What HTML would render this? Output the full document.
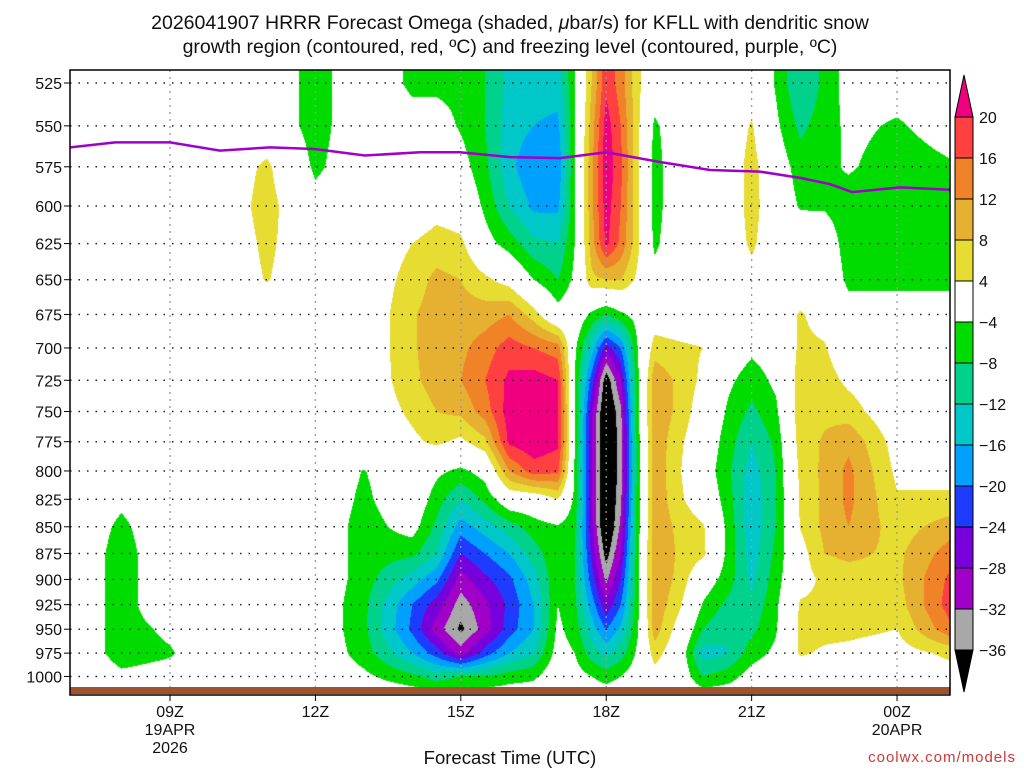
<!DOCTYPE html>
<html><head><meta charset="utf-8">
<style>
html,body{margin:0;padding:0;background:#fff;}
#wrap{position:relative;width:1024px;height:768px;overflow:hidden;font-family:"Liberation Sans",sans-serif;}
#field{position:absolute;left:70px;top:70px;}
#ov{position:absolute;left:0;top:0;}
</style></head>
<body>
<div id="wrap">
<canvas id="field" width="880" height="626"></canvas>
<svg id="ov" width="1024" height="768" xmlns="http://www.w3.org/2000/svg">
<g font-family="Liberation Sans, sans-serif" font-size="19.5" fill="#111" text-anchor="middle">
<text x="510" y="29">2026041907 HRRR Forecast Omega (shaded, <tspan font-style="italic">μ</tspan>bar/s) for KFLL with dendritic snow</text>
<text x="510" y="53">growth region (contoured, red, ºC) and freezing level (contoured, purple, ºC)</text>
</g>
<g id="grid"></g>
<path id="fz" fill="none" stroke="#a000c8" stroke-width="2.5"/>
<rect x="70" y="687" width="880" height="7" fill="#a0522d"/>
<rect x="70" y="70" width="880" height="625" fill="none" stroke="#000" stroke-width="1.5"/>
<g id="yax" font-size="16" text-anchor="end" fill="#111"></g>
<g id="xax" font-size="16" text-anchor="middle" fill="#111"></g>
<text x="510" y="764" font-size="18.5" text-anchor="middle" fill="#111">Forecast Time (UTC)</text>
<text x="1016" y="762" font-size="15" text-anchor="end" fill="#d03838" letter-spacing="1">coolwx.com/models</text>
<g id="cbar"></g>
</svg>
</div>
<script>
const times=[7,8,9,10,11,12,13,14,14.5,15,15.5,16,16.5,17,17.35,17.7,18,18.3,18.65,19,19.5,20,20.5,21,21.5,22,22.5,23,24,25.1];
const pressures=[525,550,575,600,625,650,675,700,725,750,775,800,825,850,875,900,925,950,975,1000,1025];
const omega=[
[0,0,0,0,0,0,0,0,0,0,0,0,0,0,0,0,0,0,0,0,0],
[0,0,0,0,0,0,0,0,0,0,0,0,-3,-5,-6,-6,-6,-6,-6,-3,0],
[0,0,0,0,0,0,0,0,0,0,0,0,0,0,0,0,0,-3,-4.5,-2,0],
[0,0,0,0,0,0,0,0,0,0,0,0,0,0,0,0,0,0,0,0,0],
[0,0,5,6,5,4.3,0,0,0,0,0,0,0,0,0,0,0,0,0,0,0],
[-6,-6,-5,-2,0,0,0,0,0,0,0,0,0,0,0,0,0,0,0,0,0],
[0,0,0,0,0,0,0,0,0,0,0,-4.2,-5,-6,-6,-6,-7,-7,-6,-3,0],
[-5,-2,0,0,4,6,7.5,7.5,7,5,3,0,0,-2,-7,-14,-20,-21,-16,-7,0],
[-5,-2,0,2,6,9,10,10,10,8,5,-3,-6,-9,-12,-19,-26,-30,-22,-10,0],
[-5,-4.5,-2,1,5,8,9.5,11,12,9,3,-5,-12,-18,-24,-30,-34,-37,-30,-8,0],
[-8,-8,-7,-5,-2,5,10,14,16,14,7,-2,-7,-14,-20,-25,-29,-30,-22,-8,0],
[-13,-14,-15,-12,-6,2,12,18,21,22,21,12,0,-10,-16,-21,-23,-22,-16,-6,0],
[-14,-16,-19,-17,-11,-4,6,16,22,24,23,18,0,-6,-10,-14,-16,-16,-12,-5,0],
[-14,-17,-19,-17,-12,-8,-2,14,20,21,21,17,4,-4.5,-4.5,-4.5,-4,-3,-2,0,0],
[-4.5,-4.5,-4.5,-4.5,-4,-3,0,-3,-4,-4,-4,-4.5,-5,-7,-8,-8,-7,-6,-4,-2,0],
[8,10,11,11,10,7,-5,-14,-22,-27,-28,-28,-28,-27,-25,-22,-18,-14,-10,-4,0],
[19,22,23,22,21,8,-8,-26,-39,-42,-42,-42,-42,-42,-38,-33,-27,-20,-13,-6,0],
[14,16,17,16,15,8,-5,-20,-28,-33,-34,-34,-33,-31,-28,-24,-20,-15,-10,-4,0],
[5,5,5,5,5,3,-2,-4,-5,-5,-6,-6,-6,-6,-5,-5,-5,-4.5,-3,-1,0],
[0,-5,-6,-6,-5,-2,1,6,11,11,11,11,11,11,11,11,11,10,6,2,0],
[0,0,0,0,0,0,0,5,7,7,5,4.5,5,7,7.5,7,5,2,0,0,0],
[0,0,0,0,0,0,0,4,3,1,0,-1,0.5,4.5,5,-1,-4.5,-8,-14,-8,0],
[0,0,0,0,0,0,0,-1,-3,-4.5,-6,-7,-6,-5,-5,-6,-9,-12,-12,-6,0],
[1,4.5,6,6,5,2,0,-3,-6,-9,-12,-14,-15,-15,-14,-13,-11,-9,-6,-2,0],
[-4.5,-3,-1,0,0,0,0,-2,-3,-5,-7,-8,-8,-8,-7,-6,-5,-4.5,-3,0,0],
[-12,-9,-6,-4.5,0,0,4.5,5,6,6.5,6,5,4.5,4.2,2,2,4.5,5,4.5,1,0],
[-7,-6,-5,-4.5,-1,0,2,4.5,6,7,8.5,9,9,9,8,5,5,5,3.5,0,0],
[-2,-3,-3.5,-6,-6,-5,-2,0,3,6,11,13,13,12,9,6,5,5,3,0,0],
[-2,-4.5,-6,-7,-6,-5,-2,0,0,0,2,3,4.5,6,7,7,6,4,2,0,0],
[-1,-2,-4.5,-6,-6,-5,-2,0,0,0,0,2,5,10,14,17,18,15,5,2,0]
];
const levels=[-36,-32,-28,-24,-20,-16,-12,-8,-4,4,8,12,16,20];
const levelLabels=["−36","−32","−28","−24","−20","−16","−12","−8","−4","4","8","12","16","20"];
const colors=['#000000','#a8a8a8','#a000c8','#7800dc','#1e3cff','#00a0ff','#00c8c8','#00d28c','#00dc00','#ffffff','#e6dc32','#e6b030','#f08228','#ff4040','#f0007f'];
const yTicks=[525,550,575,600,625,650,675,700,725,750,775,800,825,850,875,900,925,950,975,1000];
const xTickTimes=[9,12,15,18,21,24];
const xTickLabels=["09Z","12Z","15Z","18Z","21Z","00Z"];
const xDateLabels=["19APR","","","","","20APR"];
const xYearLabels=["2026","","","","",""];
const fzTimes=[6.94,7.87,8.59,9,10.03,11.06,11.99,13.02,14.16,14.98,16.01,17.05,18,19.11,20.14,21.17,22,22.62,23.07,24.06,25.09];
const fzPressures=[563,560,560,560,565,563,564,568,566,566,569,569.6,566,572,577,578,582,586,591,588,589.5];

const NS="http://www.w3.org/2000/svg";
function xOf(t){return 170+(t-9)*48.47;}
function tOf(x){return 9+(x-170)/48.47;}
function yOf(p){return 83+921*Math.log(p/525);}
const rowY=pressures.map(yOf);
function sample(t,y){
  t=Math.max(times[0],Math.min(times[times.length-1],t));
  y=Math.max(rowY[0],Math.min(rowY[rowY.length-1],y));
  let i=0;while(i<times.length-2&&t>times[i+1])i++;
  let j=0;while(j<rowY.length-2&&y>rowY[j+1])j++;
  const ft=(t-times[i])/(times[i+1]-times[i]);
  const fy=(y-rowY[j])/(rowY[j+1]-rowY[j]);
  const a=omega[i][j],b=omega[i+1][j],c=omega[i][j+1],d=omega[i+1][j+1];
  return (a*(1-ft)+b*ft)*(1-fy)+(c*(1-ft)+d*ft)*fy;
}
function hex(h){return [parseInt(h.substr(1,2),16),parseInt(h.substr(3,2),16),parseInt(h.substr(5,2),16)];}
const rgb=colors.map(hex);
(function(){
  const cv=document.getElementById('field');const ctx=cv.getContext('2d');
  const W=cv.width,H=cv.height;const img=ctx.createImageData(W,H);
  for(let py=0;py<H;py++){const Y=70+py+0.5;
    for(let px=0;px<W;px++){const t=tOf(70+px+0.5);const v=sample(t,Y);
      let k=0;while(k<levels.length&&v>=levels[k])k++;const c=rgb[k];
      const o=(py*W+px)*4;img.data[o]=c[0];img.data[o+1]=c[1];img.data[o+2]=c[2];img.data[o+3]=255;}}
  ctx.putImageData(img,0,0);
})();
const grid=document.getElementById('grid');
xTickTimes.forEach((t,i)=>{const l=document.createElementNS(NS,'line');
  l.setAttribute('x1',xOf(t));l.setAttribute('x2',xOf(t));l.setAttribute('y1',70);l.setAttribute('y2',695);
  l.setAttribute('stroke','#999');l.setAttribute('stroke-width','1.3');l.setAttribute('stroke-dasharray','2 5');
  
  
  grid.appendChild(l);});
yTicks.forEach(p=>{const l=document.createElementNS(NS,'line');
  l.setAttribute('x1',70);l.setAttribute('x2',950);l.setAttribute('y1',yOf(p));l.setAttribute('y2',yOf(p));
  l.setAttribute('stroke','#222');l.setAttribute('stroke-width','1.5');l.setAttribute('stroke-dasharray','1.5 7');
  
  
  grid.appendChild(l);});
document.getElementById('fz').setAttribute('d',fzTimes.map((t,i)=>(i?'L':'M')+xOf(t).toFixed(1)+' '+yOf(fzPressures[i]).toFixed(1)).join(' '));
const yax=document.getElementById('yax');
yTicks.forEach(p=>{const tx=document.createElementNS(NS,'text');tx.setAttribute('x',62);tx.setAttribute('y',yOf(p)+6);tx.textContent=p;
  
  
  yax.appendChild(tx);
  const tk=document.createElementNS(NS,'line');tk.setAttribute('x1',64);tk.setAttribute('x2',70);tk.setAttribute('y1',yOf(p));tk.setAttribute('y2',yOf(p));tk.setAttribute('stroke','#000');
  
  
  yax.appendChild(tk);});
const xax=document.getElementById('xax');
xTickTimes.forEach((t,i)=>{[[xTickLabels[i],717],[xDateLabels[i],735],[xYearLabels[i],753]].forEach(([s,y])=>{if(!s)return;
  const tx=document.createElementNS(NS,'text');tx.setAttribute('x',xOf(t));tx.setAttribute('y',y);tx.textContent=s;
  
  
  xax.appendChild(tx);});
  const tk=document.createElementNS(NS,'line');tk.setAttribute('x1',xOf(t));tk.setAttribute('x2',xOf(t));tk.setAttribute('y1',695);tk.setAttribute('y2',701);tk.setAttribute('stroke','#000');
  
  
  xax.appendChild(tk);});
const cb=document.getElementById('cbar');
function cbY(k){return 650-k*41;}
for(let k=1;k<levels.length;k++){const r=document.createElementNS(NS,'rect');
  r.setAttribute('x',955);r.setAttribute('y',cbY(k));r.setAttribute('width',18);r.setAttribute('height',41);
  r.setAttribute('fill',colors[k]);r.setAttribute('stroke','#000');r.setAttribute('stroke-width','1');
  
  
  cb.appendChild(r);}
const cbTop=document.createElementNS(NS,'polygon');cbTop.setAttribute('points',`955,${cbY(13)} 973,${cbY(13)} 964,75`);cbTop.setAttribute('fill',colors[14]);cbTop.setAttribute('stroke','#000');


cb.appendChild(cbTop);
const cbBot=document.createElementNS(NS,'polygon');cbBot.setAttribute('points',`955,${cbY(0)} 973,${cbY(0)} 964,692`);cbBot.setAttribute('fill',colors[0]);cbBot.setAttribute('stroke','#000');


cb.appendChild(cbBot);
levels.forEach((lv,k)=>{const tx=document.createElementNS(NS,'text');tx.setAttribute('x',979);tx.setAttribute('y',cbY(k)+6);
  tx.setAttribute('font-size','16');tx.setAttribute('fill','#111');tx.textContent=levelLabels[k];
  
  
  cb.appendChild(tx);});
</script>
</body></html>
